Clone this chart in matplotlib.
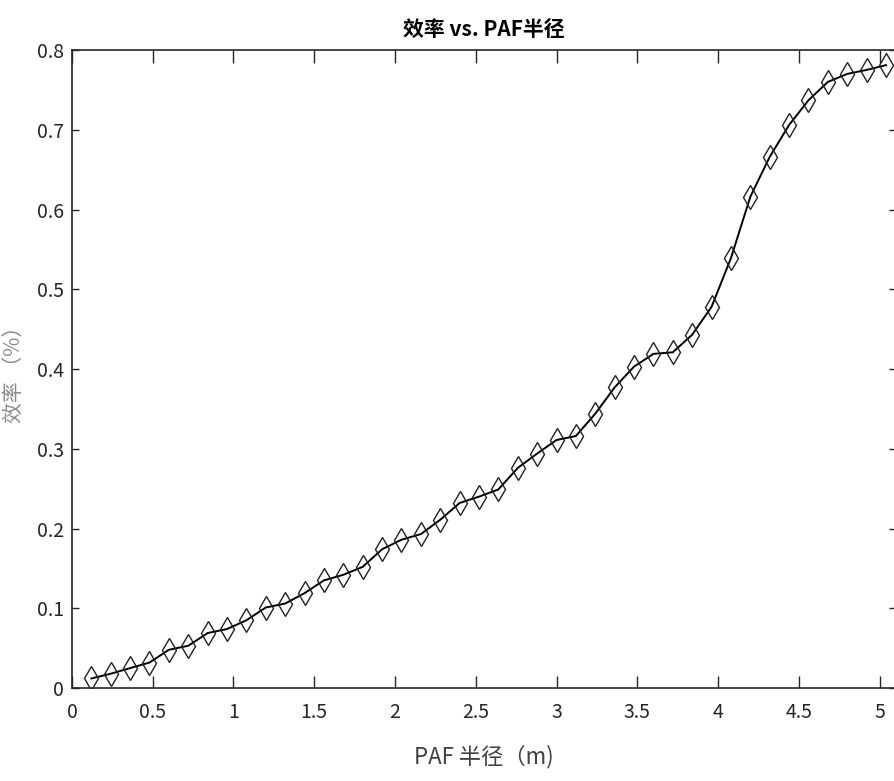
import matplotlib
matplotlib.use('Agg')
from matplotlib import pyplot as plt
from matplotlib.ticker import FormatStrFormatter

plt.rcParams['font.family'] = ['Noto Sans CJK SC', 'DejaVu Sans']

# PAF半径 (m) 与 效率
radius = [0.12, 0.24, 0.36, 0.48, 0.60, 0.72, 0.84, 0.96, 1.08, 1.20,
          1.32, 1.44, 1.56, 1.68, 1.80, 1.92, 2.04, 2.16, 2.28, 2.40,
          2.52, 2.64, 2.76, 2.88, 3.00, 3.12, 3.24, 3.36, 3.48, 3.60,
          3.72, 3.84, 3.96, 4.08, 4.20, 4.32, 4.44, 4.56, 4.68, 4.80,
          4.92, 5.04]
efficiency = [0.012, 0.018, 0.025, 0.032, 0.048, 0.053, 0.069, 0.074, 0.085, 0.101,
              0.106, 0.119, 0.135, 0.142, 0.152, 0.174, 0.186, 0.193, 0.211, 0.232,
              0.240, 0.249, 0.276, 0.294, 0.311, 0.316, 0.344, 0.377, 0.403, 0.419,
              0.421, 0.443, 0.478, 0.539, 0.616, 0.666, 0.706, 0.737, 0.760, 0.770,
              0.775, 0.781]
x_ticks = [0, 0.5, 1, 1.5, 2, 2.5, 3, 3.5, 4, 4.5, 5]
y_ticks = [0, 0.1, 0.2, 0.3, 0.4, 0.5, 0.6, 0.7, 0.8]

fig = plt.figure(figsize=(8.94, 7.81), dpi=100)
ax = fig.add_axes([0.0805, 0.119, 0.9214, 0.817])

ax.plot(radius, efficiency, color='black', linewidth=1.4, marker='d',
        markersize=12, markerfacecolor='none', markeredgecolor='#222222',
        markeredgewidth=1.0)

ax.set_xlim(0, 5.1)
ax.set_ylim(0, 0.8)
ax.set_xticks(x_ticks)
ax.set_yticks(y_ticks)
ax.xaxis.set_major_formatter(FormatStrFormatter('%g'))
ax.yaxis.set_major_formatter(FormatStrFormatter('%g'))
ax.tick_params(axis='x', direction='in', top=True, length=9, width=1,
               labelsize=14, colors='#262626', pad=10)
ax.tick_params(axis='y', direction='in', right=True, length=5, width=1,
               labelsize=14, colors='#262626', pad=6)
for s in ax.spines.values():
    s.set_color('#262626')
    s.set_linewidth(1.2)

ax.set_title('效率 vs. PAF半径', fontsize=15, fontweight='bold', pad=10)
ax.set_xlabel('PAF 半径（m)', fontsize=16, color='#404040', labelpad=16)
ax.set_ylabel('效率 （%）', fontsize=15, color='#8a8a8a', labelpad=8)

plt.savefig('out.png', dpi=100)
